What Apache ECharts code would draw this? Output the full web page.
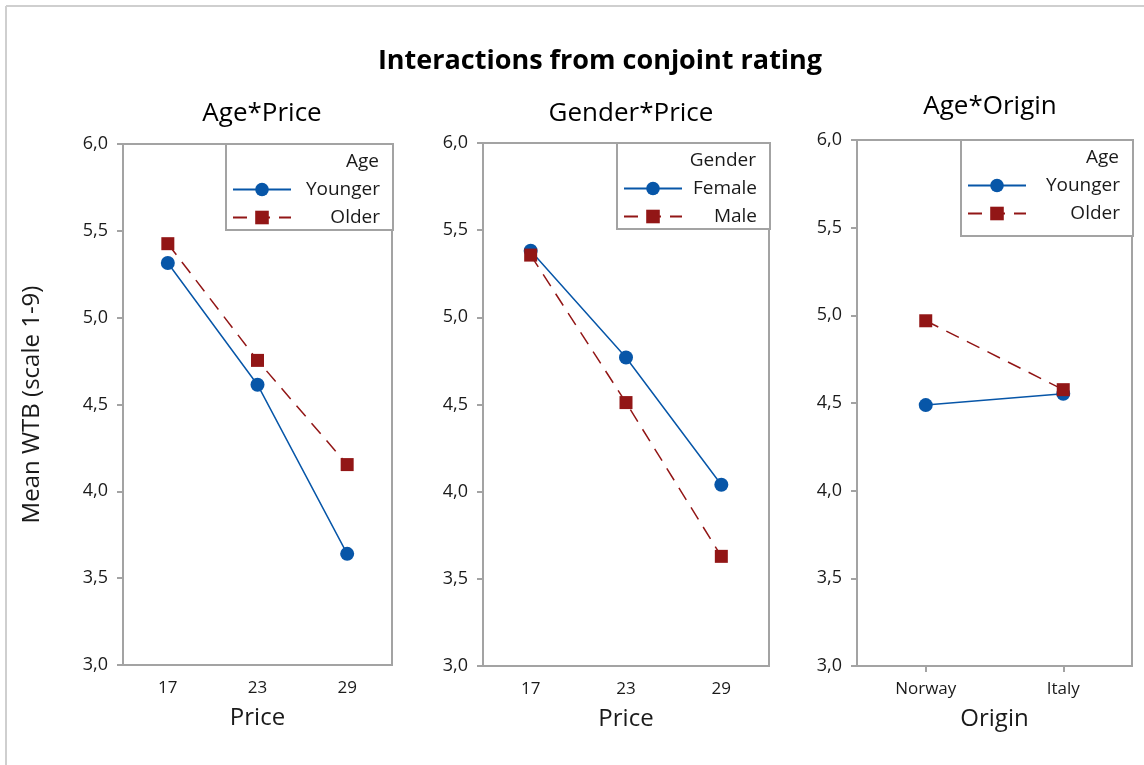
<!DOCTYPE html>
<html>
<head>
<meta charset="utf-8">
<script src="https://cdn.jsdelivr.net/npm/echarts@6/dist/echarts.min.js"></script>
<style>
html,body{margin:0;padding:0;background:#fff;}
#c{width:1144px;height:765px;}
</style>
</head>
<body>
<div id="c"></div>
<script>
// ---- data ----
const priceCats = ['17', '23', '29'];
const originCats = ['Norway', 'Italy'];
const yTicks = [3.0, 3.5, 4.0, 4.5, 5.0, 5.5, 6.0];
const agePriceYounger = [5.315, 4.614, 3.64];
const agePriceOlder = [5.426, 4.754, 4.154];
const genderPriceFemale = [5.382, 4.77, 4.04];
const genderPriceMale = [5.357, 4.511, 3.629];
const ageOriginYounger = [4.488, 4.553];
const ageOriginOlder = [4.969, 4.576];
const mainTitle = 'Interactions from conjoint rating';
const panelTitles = ['Age*Price', 'Gender*Price', 'Age*Origin'];
const legendTitles = ['Age', 'Gender', 'Age'];
const xNames = ['Price', 'Price', 'Origin'];
const yName = 'Mean WTB (scale 1-9)';

// ---- style ----
const FONT = '"Open Sans", "Noto Sans", sans-serif';
const BLUE = '#0756a8';
const RED = '#921616';
const GREY = '#a3a3a3';
const TXT = '#1a1a1a';

const grids = [
  {left: 123, top: 144, width: 269, height: 521},
  {left: 483, top: 143, width: 286, height: 523},
  {left: 857, top: 140, width: 275, height: 526}
];

function yAxis(i) {
  return {
    type: 'value', gridIndex: i, min: yTicks[0], max: yTicks[yTicks.length - 1], interval: 0.5,
    name: i === 0 ? yName : '', nameLocation: 'middle', nameGap: 79,
    nameTextStyle: {fontFamily: FONT, fontSize: 24, color: TXT},
    axisLine: {show: true, lineStyle: {color: GREY, width: 2}},
    axisTick: {show: true, length: 6, lineStyle: {color: GREY, width: 2}},
    axisLabel: {fontFamily: FONT, fontSize: 18, color: TXT, margin: 15,
      formatter: v => v.toFixed(1).replace('.', ',')},
    splitLine: {show: false}
  };
}
function xAxis(i, cats) {
  return {
    type: 'category', gridIndex: i, data: cats, boundaryGap: true,
    name: xNames[i], nameLocation: 'middle', nameGap: 41,
    nameTextStyle: {fontFamily: FONT, fontSize: 24, color: TXT},
    axisLine: {show: true, lineStyle: {color: GREY, width: 2}},
    axisTick: {show: i === 2, alignWithLabel: true, length: 6, lineStyle: {color: GREY, width: 2}},
    axisLabel: {fontFamily: FONT, fontSize: 17, color: TXT, margin: 15, interval: 0},
    splitLine: {show: false}
  };
}
function solid(name, data, i) {
  return {type: 'line', name, data, xAxisIndex: i, yAxisIndex: i,
    symbol: 'circle', symbolSize: 14, color: BLUE,
    lineStyle: {color: BLUE, width: 1.5, type: 'solid'},
    itemStyle: {color: BLUE}, z: 2, animation: false};
}
function dashed(name, data, i) {
  return {type: 'line', name, data, xAxisIndex: i, yAxisIndex: i,
    symbol: 'rect', symbolSize: 13, color: RED,
    lineStyle: {color: RED, width: 1.5, type: [14, 9]},
    itemStyle: {color: RED}, z: 3, animation: false};
}

const legendBoxes = [
  {left: 226, top: 144, right: 392, padBottom: 3, names: ['Younger', 'Older']},
  {left: 617, top: 143, right: 769, padBottom: 3, names: ['Female', 'Male']},
  {left: 961, top: 140, right: 1132, padBottom: 13, names: ['Younger', 'Older']}
];
const legends = legendBoxes.map(b => {
  const tw = (b.right - b.left) - 6 - 58 - 5 - 13;
  return {
    left: b.left, top: b.top, orient: 'vertical',
    padding: [36, 13, b.padBottom, 6], itemWidth: 58, itemHeight: 17, itemGap: 9, itemTextGap: 5,
    borderColor: GREY, borderWidth: 2, backgroundColor: '#fff',
    data: b.names, selectedMode: false,
    formatter: n => '{t|' + n + '}',
    textStyle: {fontFamily: FONT, fontSize: 19, color: TXT,
      rich: {t: {width: tw, align: 'right', fontFamily: FONT, fontSize: 19, color: TXT}}}
  };
});

const graphics = [
  {type: 'line', shape: {x1: 6, y1: 6, x2: 1144, y2: 6}, style: {stroke: '#cfcfcf', lineWidth: 2}},
  {type: 'line', shape: {x1: 6, y1: 6, x2: 6, y2: 765}, style: {stroke: '#cfcfcf', lineWidth: 2}},
  {type: 'text', x: 600, y: 61, style: {text: mainTitle, font: 'bold 27px ' + FONT, fill: '#000', align: 'center', verticalAlign: 'middle'}},
  {type: 'text', x: 262, y: 114, style: {text: panelTitles[0], font: '26px ' + FONT, fill: '#000', align: 'center', verticalAlign: 'middle'}},
  {type: 'text', x: 631, y: 114, style: {text: panelTitles[1], font: '26px ' + FONT, fill: '#000', align: 'center', verticalAlign: 'middle'}},
  {type: 'text', x: 990, y: 107, style: {text: panelTitles[2], font: '26px ' + FONT, fill: '#000', align: 'center', verticalAlign: 'middle'}}
];
legendBoxes.forEach((b, i) => {
  graphics.push({type: 'text', x: b.right - 13, y: b.top + 18, z: 100,
    style: {text: legendTitles[i], font: '19px ' + FONT, fill: TXT, align: 'right', verticalAlign: 'middle'}});
});

const chart = echarts.init(document.getElementById('c'), null, {renderer: 'canvas'});
chart.setOption({
  backgroundColor: '#fff',
  animation: false,
  grid: grids.map(g => Object.assign({show: true, borderColor: GREY, borderWidth: 2, backgroundColor: '#fff'}, g)),
  xAxis: [xAxis(0, priceCats), xAxis(1, priceCats), xAxis(2, originCats)],
  yAxis: [yAxis(0), yAxis(1), yAxis(2)],
  legend: legends,
  series: [
    solid('Younger', agePriceYounger, 0),
    dashed('Older', agePriceOlder, 0),
    solid('Female', genderPriceFemale, 1),
    dashed('Male', genderPriceMale, 1),
    solid('Younger', ageOriginYounger, 2),
    dashed('Older', ageOriginOlder, 2)
  ],
  graphic: graphics
});
</script>
</body>
</html>
